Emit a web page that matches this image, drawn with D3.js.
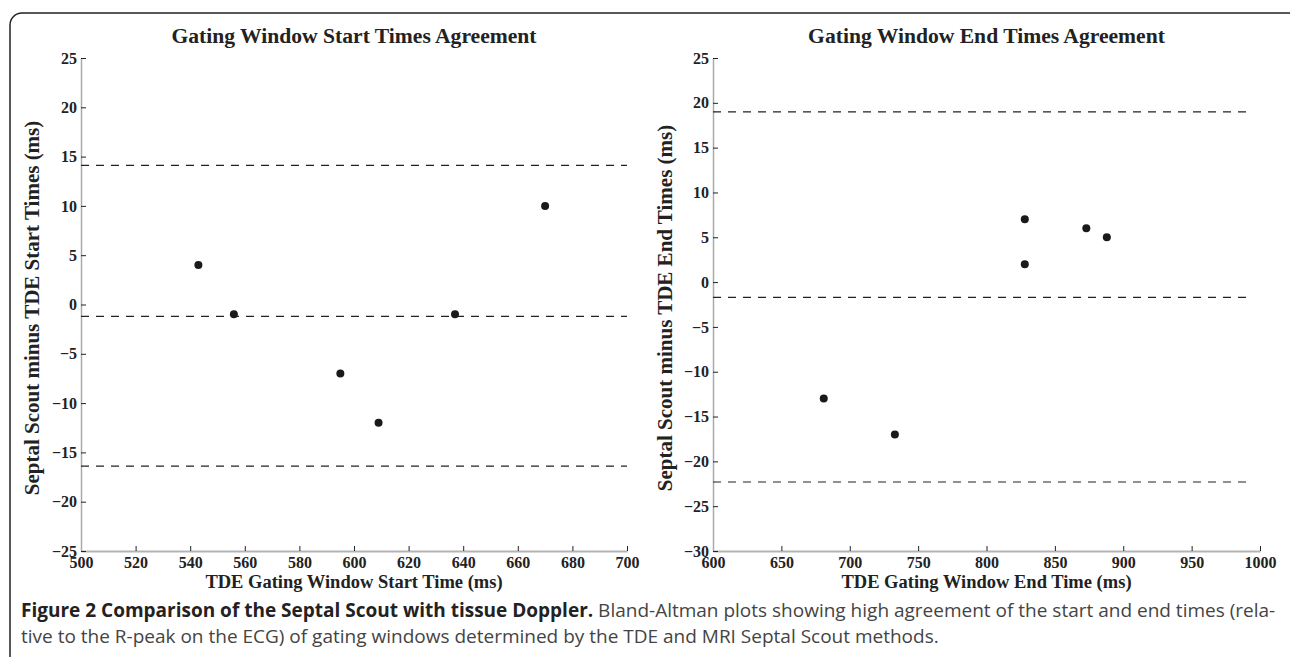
<!DOCTYPE html>
<html>
<head>
<meta charset="utf-8">
<script src="https://cdn.jsdelivr.net/npm/d3@7"></script>
<style>
  body { margin: 0; background: #fff; }
  svg { display: block; }
  .tick text { font-family: "Liberation Serif", serif; font-weight: bold; font-size: 16px; fill: #222; }
  .tick line { stroke: #222; stroke-width: 1; }
</style>
</head>
<body>
<svg width="1290" height="657"></svg>
<script>
var width = 1290, height = 657;

// start-time panel
var startX = [543, 556, 595, 609, 637, 670];
var startDiff = [4, -1, -7, -12, -1, 10];
var startLimits = [14.1, -1.2, -16.4];
var startLineX = [500, 700];
var startXTicks = [500, 520, 540, 560, 580, 600, 620, 640, 660, 680, 700];
var startYTicks = [-25, -20, -15, -10, -5, 0, 5, 10, 15, 20, 25];

// end-time panel
var endX = [681, 733, 828, 828, 873, 888];
var endDiff = [-13, -17, 7, 2, 6, 5];
var endLimits = [19.0, -1.7, -22.3];
var endLineX = [600, 990];
var endXTicks = [600, 650, 700, 750, 800, 850, 900, 950, 1000];
var endYTicks = [-30, -25, -20, -15, -10, -5, 0, 5, 10, 15, 20, 25];

var svg = d3.select('svg');

// rounded frame, cut off at the bottom and right
svg.append('rect')
  .attr('x', 10).attr('y', 13)
  .attr('width', 1300).attr('height', 700)
  .attr('rx', 12)
  .style('fill', 'none')
  .style('stroke', '#222')
  .style('stroke-width', 1.5);

function serif(sel, size) {
  return sel.style('font-family', '"Liberation Serif", serif')
    .style('font-weight', 'bold')
    .style('fill', '#222')
    .style('font-size', size + 'px');
}

function panel(opt) {
  var x = d3.scaleLinear().domain(opt.xDomain).range([opt.left, opt.right]);
  var y = d3.scaleLinear().domain(opt.yDomain).range([551, 58]);
  var g = svg.append('g');

  g.append('g')
    .attr('transform', 'translate(0,' + 551 + ')')
    .call(d3.axisBottom(x).tickValues(opt.xTicks).tickSizeInner(-5).tickSizeOuter(0).tickPadding(6)
      .tickFormat(d3.format('d')))
    .call(function(a) {
      a.select('.domain').style('stroke', '#b3b3b3').style('stroke-width', 2);
    });

  g.append('g')
    .attr('transform', 'translate(' + opt.left + ',0)')
    .call(d3.axisLeft(y).tickValues(opt.yTicks).tickSizeInner(-5).tickSizeOuter(0).tickPadding(4)
      .tickFormat(function(d) { return d < 0 ? '\u2212' + Math.abs(d) : d; }))
    .call(function(a) {
      a.select('.domain').style('stroke', '#aaa').style('stroke-width', 1.5);
    });

  g.selectAll('line.limit')
    .data(opt.limits)
    .enter()
    .append('line')
    .attr('class', 'limit')
    .attr('x1', x(opt.lineX[0]))
    .attr('x2', x(opt.lineX[1]))
    .attr('y1', function(d) { return y(d); })
    .attr('y2', function(d) { return y(d); })
    .style('stroke', '#222')
    .style('stroke-width', 1.2)
    .style('stroke-dasharray', '8,7');

  g.selectAll('circle')
    .data(opt.xs)
    .enter()
    .append('circle')
    .attr('cx', function(d) { return x(d); })
    .attr('cy', function(d, i) { return y(opt.ys[i]); })
    .attr('r', 4)
    .style('fill', '#1a1a1a');

  var mid = (opt.left + opt.right) / 2;

  serif(g.append('text'), 21.6)
    .attr('x', mid).attr('y', 43)
    .attr('text-anchor', 'middle')
    .text(opt.title);

  serif(g.append('text'), 18.5)
    .attr('x', mid).attr('y', 588)
    .attr('text-anchor', 'middle')
    .text(opt.xLabel);

  serif(g.append('text'), 21)
    .attr('transform', 'translate(' + opt.yLabelX + ',' + 308 + ') rotate(-90)')
    .attr('text-anchor', 'middle')
    .text(opt.yLabel);
}

panel({
  xDomain: [500, 700], yDomain: [-25, 25], left: 81, right: 627,
  xTicks: startXTicks, yTicks: startYTicks,
  limits: startLimits, lineX: startLineX,
  xs: startX, ys: startDiff,
  title: 'Gating Window Start Times Agreement',
  xLabel: 'TDE Gating Window Start Time (ms)',
  yLabel: 'Septal Scout minus TDE Start Times (ms)',
  yLabelX: 39
});

panel({
  xDomain: [600, 1000], yDomain: [-30, 25], left: 713, right: 1260,
  xTicks: endXTicks, yTicks: endYTicks,
  limits: endLimits, lineX: endLineX,
  xs: endX, ys: endDiff,
  title: 'Gating Window End Times Agreement',
  xLabel: 'TDE Gating Window End Time (ms)',
  yLabel: 'Septal Scout minus TDE End Times (ms)',
  yLabelX: 672
});

// caption
var cap = svg.append('text')
  .attr('x', 21).attr('y', 617)
  .style('font-family', '"Open Sans", sans-serif')
  .style('font-size', '19px')
  .style('fill', '#444');
cap.append('tspan')
  .style('font-weight', 'bold').style('fill', '#222')
  .text('Figure 2 Comparison of the Septal Scout with tissue Doppler.');
cap.append('tspan')
  .text(' Bland-Altman plots showing high agreement of the start and end times (rela-');

svg.append('text')
  .attr('x', 21).attr('y', 643)
  .style('font-family', '"Open Sans", sans-serif')
  .style('font-size', '19px')
  .style('fill', '#444')
  .text('tive to the R-peak on the ECG) of gating windows determined by the TDE and MRI Septal Scout methods.');
</script>
</body>
</html>
